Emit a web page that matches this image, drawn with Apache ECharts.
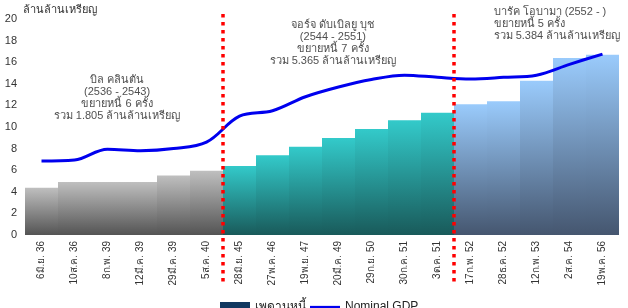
<!DOCTYPE html>
<html lang="th">
<head>
<meta charset="utf-8">
</head>
<body style="margin:0">
<div id="container" style="width:628px;height:308px"></div>
<script src="https://cdn.jsdelivr.net/npm/echarts@6/dist/echarts.min.js"></script>
<script>
// วันที่ปรับเพดานหนี้
const categories = ['6มิ.ย. 36', '10ส.ค. 36', '8ก.พ. 39', '12มี.ค. 39', '29มี.ค. 39', '5ส.ค. 40',
  '28มิ.ย. 45', '27พ.ค. 46', '19พ.ย. 47', '20มี.ค. 49', '29ก.ย. 50', '30ก.ค. 51', '3ต.ค. 51',
  '17ก.พ. 52', '28ธ.ค. 52', '12ก.พ. 53', '2ส.ค. 54', '19พ.ค. 56'];
const debtCeiling = [4.37, 4.9, 4.9, 4.9, 5.5, 5.95, 6.4, 7.38, 8.18, 8.97, 9.82, 10.62, 11.32,
  12.1, 12.39, 14.29, 16.39, 16.7];
const nominalGdp = [6.85, 6.95, 7.95, 7.8, 8.0, 8.6, 11.0, 11.5, 12.8, 13.7, 14.4, 14.8, 14.6,
  14.45, 14.6, 14.8, 15.8, 16.75];
// กลุ่มประธานาธิบดี (index ของแท่ง)
const era = [0, 0, 0, 0, 0, 0, 1, 1, 1, 1, 1, 1, 1, 2, 2, 2, 2, 2];
const eraBoundaries = [6, 13];
const notes = [
  'บิล คลินตัน\n(2536 - 2543)\nขยายหนี้ 6 ครั้ง\nรวม 1.805 ล้านล้านเหรียญ',
  'จอร์จ ดับเบิลยู บุช\n(2544 - 2551)\nขยายหนี้ 7 ครั้ง\nรวม 5.365 ล้านล้านเหรียญ',
  'บารัค โอบามา (2552 - )\nขยายหนี้ 5 ครั้ง\nรวม 5.384 ล้านล้านเหรียญ'
];
// ตำแหน่งข้อความ (หน่วยแท่ง, สัดส่วนความสูง)
const notePos = [[2.79, 0.775], [9.33, 0.98], [14.2, 1]];

const eraColors = [
  ['#bfbfbf', '#545454'],
  ['#33caca', '#195a5a'],
  ['#9acbfc', '#45566f']
];
const font = 'Liberation Sans, DejaVu Sans, Noto Sans, sans-serif';

const chart = echarts.init(document.getElementById('container'), null, { renderer: 'canvas' });

const barData = debtCeiling.map((v, i) => ({
  value: v,
  itemStyle: {
    color: new echarts.graphic.LinearGradient(0, 0, 0, 1, [
      { offset: 0, color: eraColors[era[i]][0] },
      { offset: 1, color: eraColors[era[i]][1] }
    ])
  }
}));

const option = {
  animation: false,
  textStyle: { fontFamily: font },
  grid: [
    { left: 25, right: 9, top: 19, bottom: 73 },
    // grid ซ้อนสำหรับเส้นแบ่งช่วงและข้อความ
    { left: 25, right: 9, top: 14, bottom: 26 }
  ],
  legend: {
    top: 296,
    left: 215,
    itemGap: 4,
    itemWidth: 30,
    itemHeight: 10,
    textStyle: { fontSize: 12, color: '#222' },
    data: [
      { name: 'เพดานหนี้', icon: 'rect' },
      { name: 'Nominal GDP', icon: 'path://M0 0H40V3H0Z' }
    ]
  },
  xAxis: [{
    type: 'category',
    data: categories,
    axisLine: { show: false },
    axisTick: { show: false },
    axisLabel: { rotate: 90, interval: 0, fontSize: 10, color: '#333', margin: 6 }
  }, {
    type: 'value', gridIndex: 1, min: 0, max: 18, show: false
  }],
  yAxis: [{
    type: 'value',
    min: 0,
    max: 20,
    interval: 2,
    name: 'ล้านล้านเหรียญ',
    nameLocation: 'end',
    nameGap: 4,
    nameTextStyle: { fontSize: 11, color: '#333', align: 'left', padding: [0, 0, 0, -2] },
    axisLine: { show: false },
    axisTick: { show: false },
    splitLine: { show: false },
    axisLabel: { fontSize: 11, color: '#333', margin: 8 }
  }, {
    type: 'value', gridIndex: 1, min: 0, max: 1, show: false
  }],
  series: [{
    name: 'เพดานหนี้',
    type: 'bar',
    barCategoryGap: 0,
    itemStyle: { color: '#10375f' },
    data: barData,
    z: 1
  }, {
    name: 'Nominal GDP',
    type: 'line',
    data: nominalGdp,
    smooth: 0.35,
    symbol: 'none',
    lineStyle: { color: '#0000ee', width: 3 },
    itemStyle: { color: '#0000ee' },
    z: 3
  }, {
    type: 'scatter',
    xAxisIndex: 1,
    yAxisIndex: 1,
    symbolSize: 0,
    clip: false,
    silent: true,
    z: 5,
    data: notePos.map((p, i) => ({
      value: p,
      label: {
        show: true,
        formatter: notes[i],
        position: 'bottom',
        distance: 0,
        align: i === 2 ? 'left' : 'center',
        offset: i === 2 ? [0, -8] : [0, 0]
      }
    })),
    label: { fontSize: 11, lineHeight: 12, color: '#222' },
    markLine: {
      silent: true,
      symbol: 'none',
      label: { show: false },
      lineStyle: { color: '#ff0000', width: 3.5, type: [3.5, 4.5] },
      data: eraBoundaries.map(b => [{ coord: [b, 1] }, { coord: [b, 0] }])
    }
  }]
};

chart.setOption(option);
window.addEventListener('resize', chart.resize);
</script>
</body>
</html>
